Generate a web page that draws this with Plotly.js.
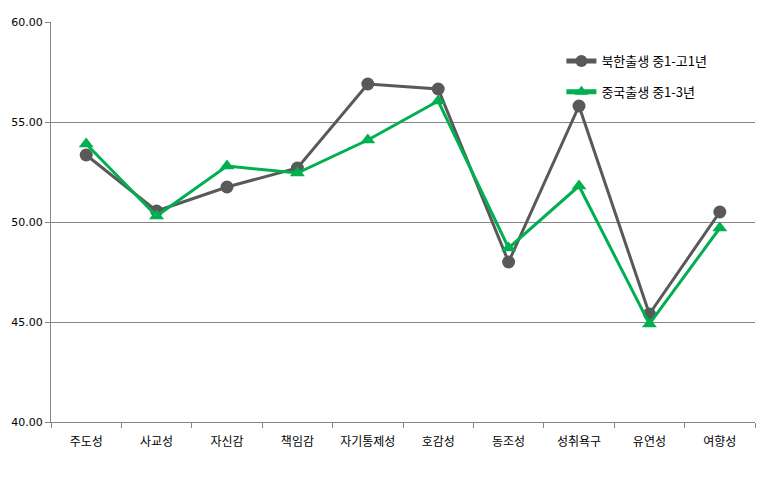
<!DOCTYPE html>
<html>
<head>
<meta charset="utf-8">
<script src="https://cdn.plot.ly/plotly-3.0.1.min.js"></script>
<style>html,body{margin:0;padding:0;background:#fff;}#chart{width:780px;height:493px;}</style>
</head>
<body>
<div id="chart"></div>
<script>
const categories = ["주도성","사교성","자신감","책임감","자기통제성","호감성","동조성","성취욕구","유연성","여향성"];
const northKorea = [53.35, 50.55, 51.75, 52.7, 56.9, 56.65, 48.0, 55.8, 45.4, 50.5];
const china = [53.9, 50.3, 52.8, 52.45, 54.1, 56.05, 48.7, 51.8, 44.9, 49.7];
const seriesNames = ["북한출생 중1-고1년", "중국출생 중1-3년"];
const yTicks = [40, 45, 50, 55, 60];
const yTickText = ["40.00","45.00","50.00","55.00","60.00"];

const font = "'Noto Sans CJK KR', 'DejaVu Sans', sans-serif";

const traces = [
  {x: categories, y: northKorea, name: seriesNames[0], type: 'scatter', mode: 'lines+markers',
   line: {color: '#595959', width: 3}, marker: {symbol: 'circle', size: 13, color: '#595959'},
   legendgroup: 'a'},
  {x: categories, y: china, name: seriesNames[1], type: 'scatter', mode: 'lines+markers',
   line: {color: '#00B050', width: 3}, marker: {symbol: 'triangle-up', size: 13, color: '#00B050'},
   legendgroup: 'b'}
];

const layout = {
  width: 780, height: 493,
  margin: {l: 51, r: 25, t: 22, b: 71},
  paper_bgcolor: '#fff', plot_bgcolor: '#fff',
  font: {family: font, size: 12, color: '#000'},
  showlegend: true,
  legend: {x: 0.725, y: 0.94, xanchor: 'left', yanchor: 'top', bgcolor: 'rgba(0,0,0,0)',
           font: {family: font, size: 13, color: '#000'}, tracegroupgap: 11, traceorder: 'grouped',
           itemsizing: 'constant'},
  xaxis: {type: 'category', range: [-0.5, 9.5], tickson: 'boundaries', ticks: 'outside', ticklen: 5, tickcolor: '#868686',
          showline: true, linecolor: '#868686', linewidth: 1, showgrid: false, zeroline: false,
          ticklabelstandoff: 9,
          tickfont: {family: font, size: 12, color: '#000'}, fixedrange: true},
  yaxis: {range: [40, 60], tickvals: yTicks, ticktext: yTickText, ticks: 'outside', ticklen: 5,
          tickcolor: '#868686', showline: true, linecolor: '#868686', linewidth: 1,
          showgrid: true, gridcolor: '#868686', gridwidth: 1, zeroline: false,
          tickfont: {family: "'DejaVu Sans', sans-serif", size: 11, color: '#000'}}
};

Plotly.newPlot('chart', traces, layout, {displayModeBar: false, staticPlot: true});
</script>
</body>
</html>
